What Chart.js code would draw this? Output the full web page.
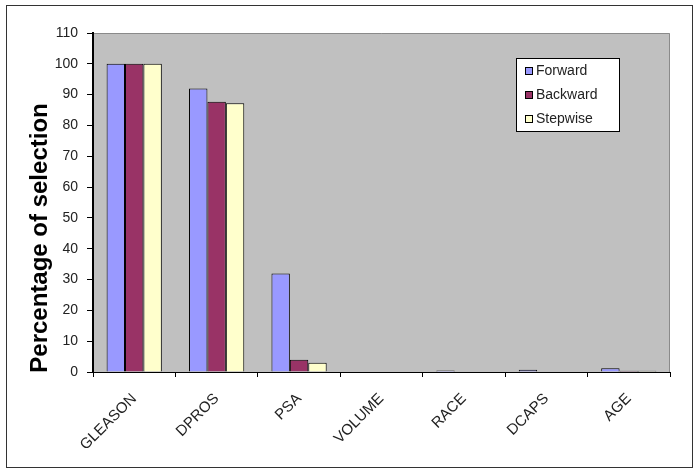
<!DOCTYPE html>
<html>
<head>
<meta charset="utf-8">
<script src="https://cdn.jsdelivr.net/npm/chart.js@4/dist/chart.umd.min.js"></script>
<style>
  body { margin: 0; background: #fff; }
  #wrap { position: relative; width: 695px; height: 476px; }
  #frame { position: absolute; left: 6px; top: 5px; width: 685px; height: 461px; border: 1px solid #333; }
  canvas { position: absolute; left: 0; top: 0; }
</style>
</head>
<body>
<div id="wrap">
  <div id="frame"></div>
  <canvas id="selchart" width="695" height="476"></canvas>
</div>
<script>
const categories = ["GLEASON", "DPROS", "PSA", "VOLUME", "RACE", "DCAPS", "AGE"];
const forward  = [100, 92, 32, 0, 0.5, 0.7, 1.2];
const backward = [100, 87.7, 4, 0, 0, 0, 0.4];
const stepwise = [100, 87.2, 3, 0, 0, 0, 0.4];
const yTicks = [0, 10, 20, 30, 40, 50, 60, 70, 80, 90, 100, 110];
const yTitle = "Percentage of selection";

const fontFam = "'Liberation Sans', Arial, sans-serif";

// grey plot area, like the old excel charts
const plotBg = {
    id: "plotBg",
    beforeDraw(chart) {
        const a = chart.chartArea, c = chart.ctx;
        c.save();
        c.fillStyle = "#c0c0c0";
        c.fillRect(a.left, a.top, a.right - a.left, a.bottom - a.top);
        c.strokeStyle = "#8a8a8a";
        c.lineWidth = 1;
        c.beginPath();
        c.moveTo(a.left, a.top + 0.5);
        c.lineTo(a.right - 0.5, a.top + 0.5);
        c.lineTo(a.right - 0.5, a.bottom);
        c.stroke();
        c.restore();
    }
};

// y title sits a bit lower than the axis middle in the original, so draw it by hand
const sideTitle = {
    id: "sideTitle",
    afterDraw(chart) {
        const c = chart.ctx;
        c.save();
        c.translate(47, 238);
        c.rotate(-Math.PI / 2);
        c.font = "bold 24px " + fontFam;
        c.fillStyle = "#000";
        c.textAlign = "center";
        c.textBaseline = "alphabetic";
        c.fillText(yTitle, 0, 0);
        c.restore();
    }
};

// legend box drawn inside the plot
const boxLegend = {
    id: "boxLegend",
    afterDraw(chart) {
        const c = chart.ctx;
        const x = 516, y = 58, w = 103, h = 73;
        c.save();
        c.fillStyle = "#fff";
        c.fillRect(x, y, w, h);
        c.strokeStyle = "#000";
        c.lineWidth = 1;
        c.strokeRect(x + 0.5, y + 0.5, w, h);
        c.font = "14px " + fontFam;
        c.textBaseline = "middle";
        chart.data.datasets.forEach((ds, i) => {
            const ry = y + 13 + i * 24;
            c.fillStyle = ds.backgroundColor;
            c.fillRect(x + 9, ry - 4, 7, 7);
            c.strokeStyle = "#000";
            c.strokeRect(x + 9.5, ry - 3.5, 7, 7);
            c.fillStyle = "#222";
            c.fillText(ds.label, x + 20, ry);
        });
        c.restore();
    }
};

new Chart(document.getElementById("selchart"), {
    type: "bar",
    data: {
        labels: categories,
        datasets: [
            { label: "Forward", data: forward, backgroundColor: "#9999ff" },
            { label: "Backward", data: backward, backgroundColor: "#993366" },
            { label: "Stepwise", data: stepwise, backgroundColor: "#ffffcc" }
        ].map(d => Object.assign(d, { borderColor: "#000", borderWidth: 1, categoryPercentage: 0.67, barPercentage: 1 }))
    },
    options: {
        responsive: false,
        animation: false,
        layout: { padding: { left: 8, top: 33, right: 25, bottom: 0 } },
        plugins: { legend: { display: false }, tooltip: { enabled: false } },
        scales: {
            y: {
                min: 0, max: 110,
                afterBuildTicks: (s) => { s.ticks = yTicks.map(v => ({ value: v })); },
                afterFit: (s) => { s.width = 85; },
                grid: { drawOnChartArea: false, drawTicks: true, tickLength: 6, color: "#000" },
                border: { color: "#000", width: 2 },
                ticks: { color: "#222", font: { family: fontFam, size: 14 }, padding: 9 }
            },
            x: {
                afterFit: (s) => { s.height = 104; },
                grid: { drawOnChartArea: false, drawTicks: true, tickLength: 5, color: "#000", offset: true },
                border: { color: "#000", width: 1 },
                ticks: { color: "#222", font: { family: fontFam, size: 15 }, minRotation: 45, maxRotation: 45, padding: 13 }
            }
        }
    },
    plugins: [plotBg, sideTitle, boxLegend]
});
</script>
</body>
</html>
